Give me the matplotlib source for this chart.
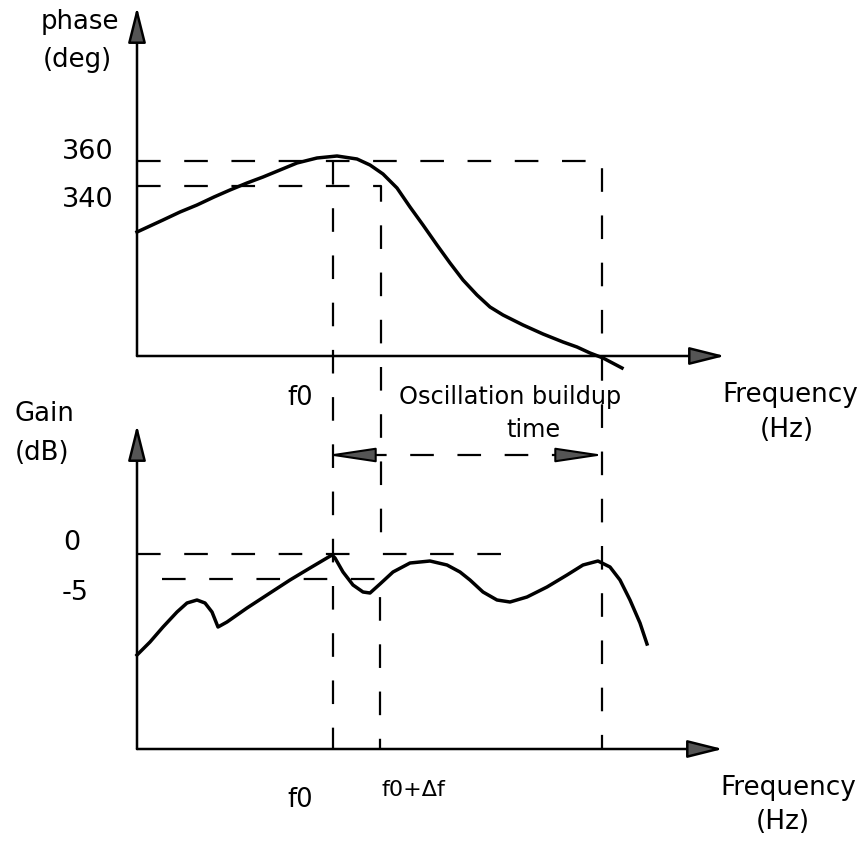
import numpy as np
import matplotlib
matplotlib.use('Agg')
import matplotlib.pyplot as plt

plt.rcParams['font.family'] = ['DejaVu Sans']
plt.rcParams['lines.scale_dashes'] = False

W, H = 862, 843   # canvas in pixels, y grows downward

# phase curve (upper plot)
phase_x = [137, 150, 163, 180, 197, 214, 230, 247, 263, 280, 297, 317, 337, 357, 370, 383,
           397, 410, 423, 437, 450, 463, 477, 490, 503, 523, 543, 563, 577, 590, 603, 622]
phase_y = [232, 226, 220, 212, 205, 197, 190, 183, 177, 170, 163, 158, 156, 159, 165, 174,
           188, 207, 225, 245, 263, 280, 295, 307, 315, 325, 334, 342, 347, 353, 358, 368]

# gain curve (lower plot)
gain_x = [137, 150, 163, 177, 187, 197, 205, 212, 216, 218, 227, 247, 270, 290, 310, 332,
          335, 343, 353, 363, 370, 380, 393, 410, 430, 447, 460, 470, 483, 497, 510, 527,
          547, 567, 583, 598, 610, 620, 630, 640, 647]
gain_y = [655, 642, 627, 612, 603, 600, 603, 612, 622, 627, 622, 608, 593, 580, 568, 555,
          558, 572, 585, 592, 593, 584, 572, 563, 561, 565, 572, 580, 592, 600, 602, 597,
          587, 575, 565, 561, 567, 580, 600, 623, 644]

# guide positions
x_axis0 = 137
f0_x, f1_x, fend_x = 333, 381, 602
top_tip, top_axis_y = 12, 356
bot_tip, bot_axis_y = 430, 749
x_tip = 720
lvl_360, lvl_340 = 161, 186
lvl_0, lvl_m5 = 554, 579
buildup_y = 455

fig = plt.figure(figsize=(W / 100, H / 100), dpi=100)
ax = fig.add_axes([0, 0, 1, 1])
ax.set_xlim(0, W)
ax.set_ylim(H, 0)
ax.axis('off')

dash = (0, (17, 17))
dkw = dict(color='black', lw=1.6, linestyle=dash)

def arrow(tip, start, hl=2.2, hw=0.55, lw=1.8):
    ax.annotate('', xy=tip, xytext=start,
                arrowprops=dict(arrowstyle='-|>,head_length=%g,head_width=%g' % (hl, hw),
                                lw=lw, fc='#555555', ec='black', shrinkA=0, shrinkB=0,
                                mutation_scale=10))

# axes with arrows
arrow((x_axis0, top_tip - 5), (x_axis0, top_axis_y))
arrow((x_tip + 5, top_axis_y), (x_axis0, top_axis_y))
arrow((x_axis0, bot_tip - 5), (x_axis0, bot_axis_y))
arrow((x_tip + 3, bot_axis_y), (x_axis0, bot_axis_y))

# dashed guides
ax.plot([x_axis0, fend_x, fend_x], [lvl_360, lvl_360, bot_axis_y], **dkw)
ax.plot([x_axis0, f1_x, f1_x, 502], [lvl_340, lvl_340, lvl_0, lvl_0], **dkw)
ax.plot([f0_x, f0_x], [lvl_360, bot_axis_y], **dkw)
ax.plot([x_axis0, 356], [lvl_0, lvl_0], **dkw)
ax.plot([162, f1_x - 1, f1_x - 1], [lvl_m5, lvl_m5, bot_axis_y], **dkw)
ax.plot([f0_x + 30, fend_x - 33], [buildup_y, buildup_y], **dkw)

# buildup time arrows
arrow((f0_x - 6, buildup_y), (f0_x + 30, buildup_y), hl=3.0, hw=0.45, lw=1.5)
arrow((fend_x + 2, buildup_y), (fend_x - 34, buildup_y), hl=3.0, hw=0.45, lw=1.5)

# curves
ax.plot(phase_x, phase_y, color='black', lw=2.5, solid_joinstyle='round')
ax.plot(gain_x, gain_y, color='black', lw=2.5, solid_joinstyle='round')

# texts
tkw = dict(ha='center', va='center', color='black')
ax.text(80, 22, 'phase', fontsize=18.7, **tkw)
ax.text(77, 60, '(deg)', fontsize=18.7, **tkw)
ax.text(88, 152, '360', fontsize=19.5, **tkw)
ax.text(88, 200, '340', fontsize=19.5, **tkw)
ax.text(300, 398, 'f0', fontsize=18.5, **tkw)
ax.text(510, 397, 'Oscillation buildup', fontsize=17.3, **tkw)
ax.text(533, 430, 'time', fontsize=17.3, **tkw)
ax.text(790, 395, 'Frequency', fontsize=18.9, **tkw)
ax.text(787, 430, '(Hz)', fontsize=18.9, **tkw)
ax.text(44, 414, 'Gain', fontsize=18.7, **tkw)
ax.text(42, 453, '(dB)', fontsize=18.7, **tkw)
ax.text(72, 543, '0', fontsize=19.5, **tkw)
ax.text(75, 593, '-5', fontsize=19.5, **tkw)
ax.text(300, 800, 'f0', fontsize=18.5, **tkw)
ax.text(413, 790, 'f0+\u0394f', fontsize=16, **tkw)
ax.text(788, 788, 'Frequency', fontsize=18.9, **tkw)
ax.text(783, 822, '(Hz)', fontsize=18.9, **tkw)

fig.savefig('out.png', dpi=100, facecolor='white')
